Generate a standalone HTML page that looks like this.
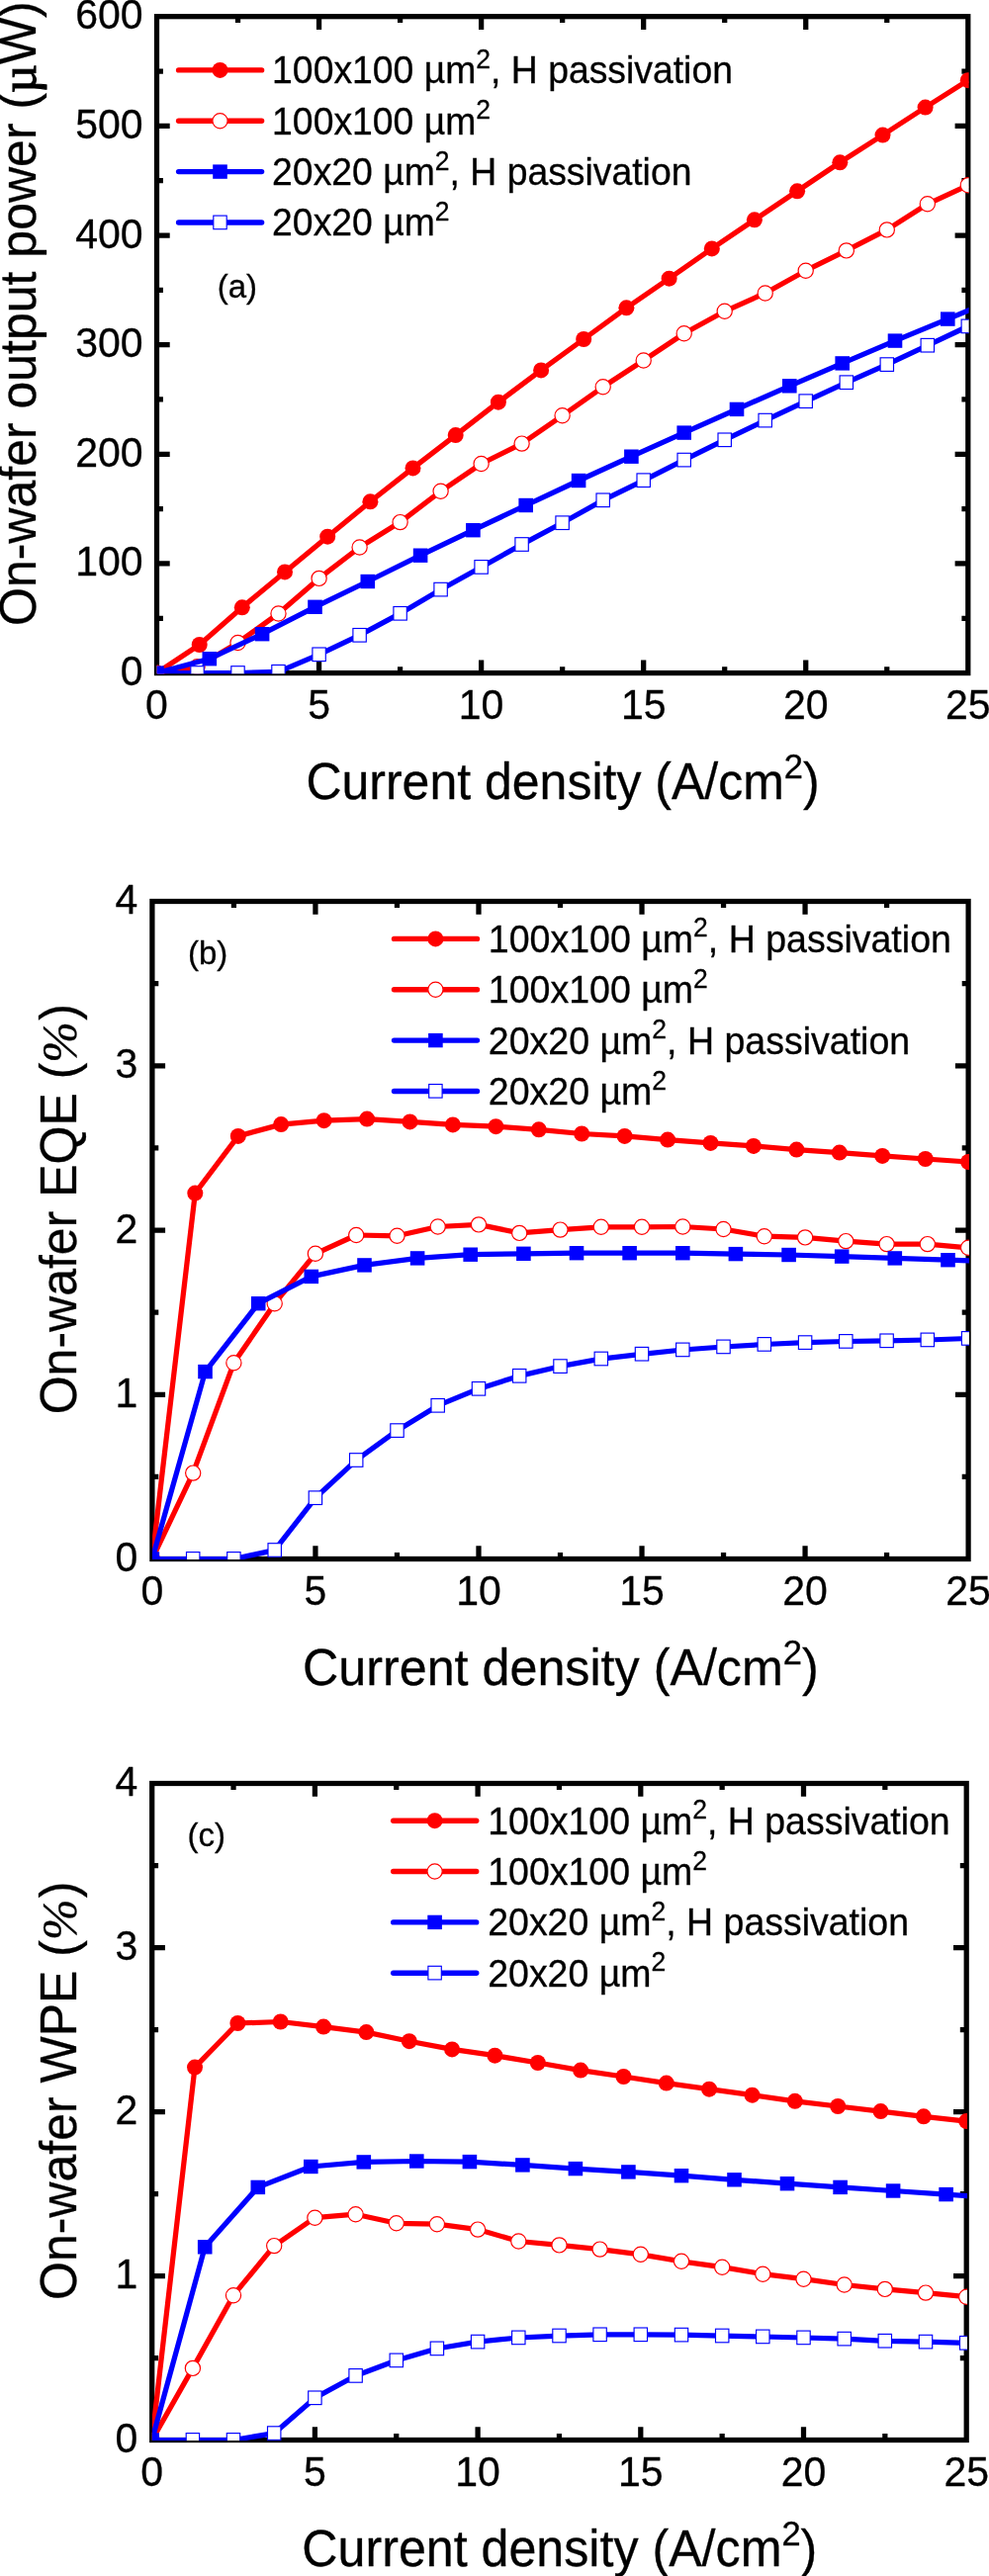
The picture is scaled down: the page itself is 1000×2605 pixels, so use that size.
<!DOCTYPE html><html><head><meta charset="utf-8"><title>chart</title><style>html,body{margin:0;padding:0;background:#fff}svg{display:block;mix-blend-mode:multiply}text{font-family:"Liberation Sans",sans-serif;fill:#000;stroke:#000;stroke-width:.3px}.sy{font-family:"Liberation Serif",serif}</style></head><body>
<svg width="1000" height="2605" viewBox="0 0 1000 2605">
<g><rect x="158.5" y="16.7" width="820.3" height="663.9" fill="none" stroke="#000" stroke-width="5.25"/><path d="M240.53 680.6v-6.4M240.53 16.7v6.4M322.56 680.6v-13.2M322.56 16.7v13.2M404.59 680.6v-6.4M404.59 16.7v6.4M486.62 680.6v-13.2M486.62 16.7v13.2M568.65 680.6v-6.4M568.65 16.7v6.4M650.68 680.6v-13.2M650.68 16.7v13.2M732.71 680.6v-6.4M732.71 16.7v6.4M814.74 680.6v-13.2M814.74 16.7v13.2M896.77 680.6v-6.4M896.77 16.7v6.4M158.5 625.27h6.4M978.8 625.27h-6.4M158.5 569.95h13.2M978.8 569.95h-13.2M158.5 514.62h6.4M978.8 514.62h-6.4M158.5 459.30h13.2M978.8 459.30h-13.2M158.5 403.98h6.4M978.8 403.98h-6.4M158.5 348.65h13.2M978.8 348.65h-13.2M158.5 293.33h6.4M978.8 293.33h-6.4M158.5 238.00h13.2M978.8 238.00h-13.2M158.5 182.68h6.4M978.8 182.68h-6.4M158.5 127.35h13.2M978.8 127.35h-13.2M158.5 72.02h6.4M978.8 72.02h-6.4" stroke="#000" stroke-width="5.25" fill="none"/><text transform="translate(158.50,727.20) scale(1,1.04)" font-size="41" text-anchor="middle">0</text><text transform="translate(322.56,727.20) scale(1,1.04)" font-size="41" text-anchor="middle">5</text><text transform="translate(486.62,727.20) scale(1,1.04)" font-size="41" text-anchor="middle">10</text><text transform="translate(650.68,727.20) scale(1,1.04)" font-size="41" text-anchor="middle">15</text><text transform="translate(814.74,727.20) scale(1,1.04)" font-size="41" text-anchor="middle">20</text><text transform="translate(978.80,727.20) scale(1,1.04)" font-size="41" text-anchor="middle">25</text><text transform="translate(144.60,693.10) scale(1,1.04)" font-size="41" text-anchor="end">0</text><text transform="translate(144.60,582.45) scale(1,1.04)" font-size="41" text-anchor="end">100</text><text transform="translate(144.60,471.80) scale(1,1.04)" font-size="41" text-anchor="end">200</text><text transform="translate(144.60,361.15) scale(1,1.04)" font-size="41" text-anchor="end">300</text><text transform="translate(144.60,250.50) scale(1,1.04)" font-size="41" text-anchor="end">400</text><text transform="translate(144.60,139.85) scale(1,1.04)" font-size="41" text-anchor="end">500</text><text transform="translate(144.60,29.20) scale(1,1.04)" font-size="41" text-anchor="end">600</text><text transform="translate(569.05,807.80) scale(1,1.03)" font-size="50.0" text-anchor="middle">Current density (A/cm<tspan dy="-20" font-size="34.5">2</tspan><tspan dy="20">)</tspan></text><text transform="translate(36.20,633.00) rotate(-90) scale(1,1.03)" font-size="50.0">On-wafer output power (<tspan class="sy" stroke-width="1.1">µ</tspan>W)</text><clipPath id="clipa"><rect x="158.7" y="16.5" width="820.9" height="664.7"/></clipPath><g clip-path="url(#clipa)"><polyline points="158.5,680.6 201.7,652.0 244.8,614.3 288.0,578.4 331.2,542.7 374.4,507.3 417.5,473.4 460.7,440.1 503.9,406.7 547.1,374.4 590.2,343.0 633.4,311.3 676.6,281.7 719.8,251.4 762.9,222.3 806.1,193.3 849.3,164.3 892.5,136.6 935.6,108.6 978.8,81.2" fill="none" stroke="#ff0000" stroke-width="5.25" stroke-linejoin="round"/><circle cx="158.5" cy="680.6" r="8" fill="#ff0000"/><circle cx="201.7" cy="652.0" r="8" fill="#ff0000"/><circle cx="244.8" cy="614.3" r="8" fill="#ff0000"/><circle cx="288.0" cy="578.4" r="8" fill="#ff0000"/><circle cx="331.2" cy="542.7" r="8" fill="#ff0000"/><circle cx="374.4" cy="507.3" r="8" fill="#ff0000"/><circle cx="417.5" cy="473.4" r="8" fill="#ff0000"/><circle cx="460.7" cy="440.1" r="8" fill="#ff0000"/><circle cx="503.9" cy="406.7" r="8" fill="#ff0000"/><circle cx="547.1" cy="374.4" r="8" fill="#ff0000"/><circle cx="590.2" cy="343.0" r="8" fill="#ff0000"/><circle cx="633.4" cy="311.3" r="8" fill="#ff0000"/><circle cx="676.6" cy="281.7" r="8" fill="#ff0000"/><circle cx="719.8" cy="251.4" r="8" fill="#ff0000"/><circle cx="762.9" cy="222.3" r="8" fill="#ff0000"/><circle cx="806.1" cy="193.3" r="8" fill="#ff0000"/><circle cx="849.3" cy="164.3" r="8" fill="#ff0000"/><circle cx="892.5" cy="136.6" r="8" fill="#ff0000"/><circle cx="935.6" cy="108.6" r="8" fill="#ff0000"/><circle cx="978.8" cy="81.2" r="8" fill="#ff0000"/><polyline points="158.5,680.6 199.5,674.3 240.5,650.0 281.5,620.5 322.6,584.9 363.6,553.5 404.6,528.1 445.6,496.8 486.6,469.0 527.6,448.6 568.6,420.3 609.7,391.3 650.7,364.5 691.7,337.3 732.7,314.8 773.7,296.5 814.7,273.7 855.8,253.4 896.8,232.4 937.8,206.3 978.8,187.3" fill="none" stroke="#ff0000" stroke-width="5.25" stroke-linejoin="round"/><circle cx="158.5" cy="680.6" r="7.6" fill="#fff" stroke="#ff0000" stroke-width="1.2"/><circle cx="199.5" cy="674.3" r="7.6" fill="#fff" stroke="#ff0000" stroke-width="1.2"/><circle cx="240.5" cy="650.0" r="7.6" fill="#fff" stroke="#ff0000" stroke-width="1.2"/><circle cx="281.5" cy="620.5" r="7.6" fill="#fff" stroke="#ff0000" stroke-width="1.2"/><circle cx="322.6" cy="584.9" r="7.6" fill="#fff" stroke="#ff0000" stroke-width="1.2"/><circle cx="363.6" cy="553.5" r="7.6" fill="#fff" stroke="#ff0000" stroke-width="1.2"/><circle cx="404.6" cy="528.1" r="7.6" fill="#fff" stroke="#ff0000" stroke-width="1.2"/><circle cx="445.6" cy="496.8" r="7.6" fill="#fff" stroke="#ff0000" stroke-width="1.2"/><circle cx="486.6" cy="469.0" r="7.6" fill="#fff" stroke="#ff0000" stroke-width="1.2"/><circle cx="527.6" cy="448.6" r="7.6" fill="#fff" stroke="#ff0000" stroke-width="1.2"/><circle cx="568.6" cy="420.3" r="7.6" fill="#fff" stroke="#ff0000" stroke-width="1.2"/><circle cx="609.7" cy="391.3" r="7.6" fill="#fff" stroke="#ff0000" stroke-width="1.2"/><circle cx="650.7" cy="364.5" r="7.6" fill="#fff" stroke="#ff0000" stroke-width="1.2"/><circle cx="691.7" cy="337.3" r="7.6" fill="#fff" stroke="#ff0000" stroke-width="1.2"/><circle cx="732.7" cy="314.8" r="7.6" fill="#fff" stroke="#ff0000" stroke-width="1.2"/><circle cx="773.7" cy="296.5" r="7.6" fill="#fff" stroke="#ff0000" stroke-width="1.2"/><circle cx="814.7" cy="273.7" r="7.6" fill="#fff" stroke="#ff0000" stroke-width="1.2"/><circle cx="855.8" cy="253.4" r="7.6" fill="#fff" stroke="#ff0000" stroke-width="1.2"/><circle cx="896.8" cy="232.4" r="7.6" fill="#fff" stroke="#ff0000" stroke-width="1.2"/><circle cx="937.8" cy="206.3" r="7.6" fill="#fff" stroke="#ff0000" stroke-width="1.2"/><circle cx="978.8" cy="187.3" r="7.6" fill="#fff" stroke="#ff0000" stroke-width="1.2"/><polyline points="158.5,680.6 211.8,666.2 265.1,641.2 318.5,613.8 371.8,588.0 425.1,561.7 478.4,536.2 531.7,511.0 585.1,486.0 638.4,461.7 691.7,437.6 745.0,413.9 798.3,390.3 851.7,367.4 905.0,344.6 958.3,322.6 1011.6,300.5" fill="none" stroke="#0000ff" stroke-width="5.25" stroke-linejoin="round"/><rect x="151.2" y="673.4" width="14.6" height="14.4" fill="#0000ff"/><rect x="204.5" y="659.0" width="14.6" height="14.4" fill="#0000ff"/><rect x="257.8" y="634.0" width="14.6" height="14.4" fill="#0000ff"/><rect x="311.2" y="606.6" width="14.6" height="14.4" fill="#0000ff"/><rect x="364.5" y="580.8" width="14.6" height="14.4" fill="#0000ff"/><rect x="417.8" y="554.5" width="14.6" height="14.4" fill="#0000ff"/><rect x="471.1" y="529.0" width="14.6" height="14.4" fill="#0000ff"/><rect x="524.4" y="503.8" width="14.6" height="14.4" fill="#0000ff"/><rect x="577.8" y="478.8" width="14.6" height="14.4" fill="#0000ff"/><rect x="631.1" y="454.5" width="14.6" height="14.4" fill="#0000ff"/><rect x="684.4" y="430.4" width="14.6" height="14.4" fill="#0000ff"/><rect x="737.7" y="406.7" width="14.6" height="14.4" fill="#0000ff"/><rect x="791.0" y="383.1" width="14.6" height="14.4" fill="#0000ff"/><rect x="844.4" y="360.2" width="14.6" height="14.4" fill="#0000ff"/><rect x="897.7" y="337.4" width="14.6" height="14.4" fill="#0000ff"/><rect x="951.0" y="315.4" width="14.6" height="14.4" fill="#0000ff"/><polyline points="158.5,680.6 199.5,680.6 240.5,680.6 281.5,679.4 322.6,661.9 363.6,642.4 404.6,620.4 445.6,596.2 486.6,573.5 527.6,550.6 568.6,528.8 609.7,505.9 650.7,485.8 691.7,465.2 732.7,444.9 773.7,425.2 814.7,405.8 855.8,386.8 896.8,368.7 937.8,349.3 978.8,330.0" fill="none" stroke="#0000ff" stroke-width="5.25" stroke-linejoin="round"/><rect x="192.8" y="673.7" width="13.4" height="13.6" fill="#fff" stroke="#0000ff" stroke-width="1.15"/><rect x="233.8" y="673.7" width="13.4" height="13.6" fill="#fff" stroke="#0000ff" stroke-width="1.15"/><rect x="274.8" y="672.5" width="13.4" height="13.6" fill="#fff" stroke="#0000ff" stroke-width="1.15"/><rect x="315.9" y="655.0" width="13.4" height="13.6" fill="#fff" stroke="#0000ff" stroke-width="1.15"/><rect x="356.9" y="635.5" width="13.4" height="13.6" fill="#fff" stroke="#0000ff" stroke-width="1.15"/><rect x="397.9" y="613.5" width="13.4" height="13.6" fill="#fff" stroke="#0000ff" stroke-width="1.15"/><rect x="438.9" y="589.3" width="13.4" height="13.6" fill="#fff" stroke="#0000ff" stroke-width="1.15"/><rect x="479.9" y="566.6" width="13.4" height="13.6" fill="#fff" stroke="#0000ff" stroke-width="1.15"/><rect x="520.9" y="543.7" width="13.4" height="13.6" fill="#fff" stroke="#0000ff" stroke-width="1.15"/><rect x="561.9" y="521.9" width="13.4" height="13.6" fill="#fff" stroke="#0000ff" stroke-width="1.15"/><rect x="603.0" y="499.0" width="13.4" height="13.6" fill="#fff" stroke="#0000ff" stroke-width="1.15"/><rect x="644.0" y="478.9" width="13.4" height="13.6" fill="#fff" stroke="#0000ff" stroke-width="1.15"/><rect x="685.0" y="458.3" width="13.4" height="13.6" fill="#fff" stroke="#0000ff" stroke-width="1.15"/><rect x="726.0" y="438.0" width="13.4" height="13.6" fill="#fff" stroke="#0000ff" stroke-width="1.15"/><rect x="767.0" y="418.3" width="13.4" height="13.6" fill="#fff" stroke="#0000ff" stroke-width="1.15"/><rect x="808.0" y="398.9" width="13.4" height="13.6" fill="#fff" stroke="#0000ff" stroke-width="1.15"/><rect x="849.1" y="379.9" width="13.4" height="13.6" fill="#fff" stroke="#0000ff" stroke-width="1.15"/><rect x="890.1" y="361.8" width="13.4" height="13.6" fill="#fff" stroke="#0000ff" stroke-width="1.15"/><rect x="931.1" y="342.4" width="13.4" height="13.6" fill="#fff" stroke="#0000ff" stroke-width="1.15"/><rect x="972.1" y="323.1" width="13.4" height="13.6" fill="#fff" stroke="#0000ff" stroke-width="1.15"/></g><line x1="180.6" y1="70.9" x2="264.6" y2="70.9" stroke="#ff0000" stroke-width="5.4" stroke-linecap="round"/><circle cx="222.5" cy="70.9" r="8" fill="#ff0000"/><text transform="translate(275.10,84.40) scale(1,1.028)" font-size="37.35">100x100 µm<tspan dy="-15" font-size="26.5">2</tspan><tspan dy="15">, H passivation</tspan></text><line x1="180.6" y1="122.2" x2="264.6" y2="122.2" stroke="#ff0000" stroke-width="5.4" stroke-linecap="round"/><circle cx="222.5" cy="122.2" r="7.6" fill="#fff" stroke="#ff0000" stroke-width="1.2"/><text transform="translate(275.10,135.75) scale(1,1.028)" font-size="37.35">100x100 µm<tspan dy="-15" font-size="26.5">2</tspan></text><line x1="180.6" y1="173.6" x2="264.6" y2="173.6" stroke="#0000ff" stroke-width="5.4" stroke-linecap="round"/><rect x="215.2" y="166.4" width="14.6" height="14.4" fill="#0000ff"/><text transform="translate(275.10,187.10) scale(1,1.028)" font-size="37.35">20x20 µm<tspan dy="-15" font-size="26.5">2</tspan><tspan dy="15">, H passivation</tspan></text><line x1="180.6" y1="225.0" x2="264.6" y2="225.0" stroke="#0000ff" stroke-width="5.4" stroke-linecap="round"/><rect x="215.8" y="218.1" width="13.4" height="13.6" fill="#fff" stroke="#0000ff" stroke-width="1.15"/><text transform="translate(275.10,238.45) scale(1,1.028)" font-size="37.35">20x20 µm<tspan dy="-15" font-size="26.5">2</tspan></text><text transform="translate(219.70,301.00) scale(1,1.0)" font-size="33">(a)</text></g>
<g><rect x="153.9" y="911.5" width="825.2" height="665.0" fill="none" stroke="#000" stroke-width="5.25"/><path d="M236.42 1576.5v-6.4M236.42 911.5v6.4M318.94 1576.5v-13.2M318.94 911.5v13.2M401.46 1576.5v-6.4M401.46 911.5v6.4M483.98 1576.5v-13.2M483.98 911.5v13.2M566.50 1576.5v-6.4M566.50 911.5v6.4M649.02 1576.5v-13.2M649.02 911.5v13.2M731.54 1576.5v-6.4M731.54 911.5v6.4M814.06 1576.5v-13.2M814.06 911.5v13.2M896.58 1576.5v-6.4M896.58 911.5v6.4M153.9 1493.38h6.4M979.1 1493.38h-6.4M153.9 1410.25h13.2M979.1 1410.25h-13.2M153.9 1327.12h6.4M979.1 1327.12h-6.4M153.9 1244.00h13.2M979.1 1244.00h-13.2M153.9 1160.88h6.4M979.1 1160.88h-6.4M153.9 1077.75h13.2M979.1 1077.75h-13.2M153.9 994.62h6.4M979.1 994.62h-6.4" stroke="#000" stroke-width="5.25" fill="none"/><text transform="translate(153.90,1623.10) scale(1,1.04)" font-size="41" text-anchor="middle">0</text><text transform="translate(318.94,1623.10) scale(1,1.04)" font-size="41" text-anchor="middle">5</text><text transform="translate(483.98,1623.10) scale(1,1.04)" font-size="41" text-anchor="middle">10</text><text transform="translate(649.02,1623.10) scale(1,1.04)" font-size="41" text-anchor="middle">15</text><text transform="translate(814.06,1623.10) scale(1,1.04)" font-size="41" text-anchor="middle">20</text><text transform="translate(979.10,1623.10) scale(1,1.04)" font-size="41" text-anchor="middle">25</text><text transform="translate(139.40,1589.00) scale(1,1.04)" font-size="41" text-anchor="end">0</text><text transform="translate(139.40,1422.75) scale(1,1.04)" font-size="41" text-anchor="end">1</text><text transform="translate(139.40,1256.50) scale(1,1.04)" font-size="41" text-anchor="end">2</text><text transform="translate(139.40,1090.25) scale(1,1.04)" font-size="41" text-anchor="end">3</text><text transform="translate(139.40,924.00) scale(1,1.04)" font-size="41" text-anchor="end">4</text><text transform="translate(566.90,1703.70) scale(1,1.03)" font-size="50.25" text-anchor="middle">Current density (A/cm<tspan dy="-20" font-size="34.5">2</tspan><tspan dy="20">)</tspan></text><text transform="translate(77.30,1430.30) rotate(-90) scale(1,1.03)" font-size="50.0">On-wafer EQE (<tspan class="sy" font-style="italic">%</tspan><tspan dx="1.3">)</tspan></text><clipPath id="clipb"><rect x="154.1" y="911.3" width="825.8" height="665.8"/></clipPath><g clip-path="url(#clipb)"><polyline points="153.9,1576.5 197.3,1206.6 240.8,1148.9 284.2,1137.1 327.6,1133.2 371.1,1131.6 414.5,1134.4 457.9,1137.4 501.4,1139.2 544.8,1142.3 588.2,1146.5 631.6,1148.9 675.1,1152.6 718.5,1155.9 761.9,1158.9 805.4,1162.6 848.8,1165.6 892.2,1168.9 935.7,1172.0 979.1,1175.0" fill="none" stroke="#ff0000" stroke-width="5.25" stroke-linejoin="round"/><circle cx="153.9" cy="1576.5" r="8" fill="#ff0000"/><circle cx="197.3" cy="1206.6" r="8" fill="#ff0000"/><circle cx="240.8" cy="1148.9" r="8" fill="#ff0000"/><circle cx="284.2" cy="1137.1" r="8" fill="#ff0000"/><circle cx="327.6" cy="1133.2" r="8" fill="#ff0000"/><circle cx="371.1" cy="1131.6" r="8" fill="#ff0000"/><circle cx="414.5" cy="1134.4" r="8" fill="#ff0000"/><circle cx="457.9" cy="1137.4" r="8" fill="#ff0000"/><circle cx="501.4" cy="1139.2" r="8" fill="#ff0000"/><circle cx="544.8" cy="1142.3" r="8" fill="#ff0000"/><circle cx="588.2" cy="1146.5" r="8" fill="#ff0000"/><circle cx="631.6" cy="1148.9" r="8" fill="#ff0000"/><circle cx="675.1" cy="1152.6" r="8" fill="#ff0000"/><circle cx="718.5" cy="1155.9" r="8" fill="#ff0000"/><circle cx="761.9" cy="1158.9" r="8" fill="#ff0000"/><circle cx="805.4" cy="1162.6" r="8" fill="#ff0000"/><circle cx="848.8" cy="1165.6" r="8" fill="#ff0000"/><circle cx="892.2" cy="1168.9" r="8" fill="#ff0000"/><circle cx="935.7" cy="1172.0" r="8" fill="#ff0000"/><circle cx="979.1" cy="1175.0" r="8" fill="#ff0000"/><polyline points="153.9,1576.5 195.2,1489.6 236.4,1378.3 277.7,1318.2 318.9,1267.8 360.2,1249.0 401.5,1249.8 442.7,1240.5 484.0,1238.4 525.2,1246.9 566.5,1243.6 607.8,1240.8 649.0,1240.8 690.3,1240.5 731.5,1243.0 772.8,1250.2 814.1,1251.4 855.3,1255.1 896.6,1258.1 937.8,1258.1 979.1,1261.8" fill="none" stroke="#ff0000" stroke-width="5.25" stroke-linejoin="round"/><circle cx="153.9" cy="1576.5" r="7.6" fill="#fff" stroke="#ff0000" stroke-width="1.2"/><circle cx="195.2" cy="1489.6" r="7.6" fill="#fff" stroke="#ff0000" stroke-width="1.2"/><circle cx="236.4" cy="1378.3" r="7.6" fill="#fff" stroke="#ff0000" stroke-width="1.2"/><circle cx="277.7" cy="1318.2" r="7.6" fill="#fff" stroke="#ff0000" stroke-width="1.2"/><circle cx="318.9" cy="1267.8" r="7.6" fill="#fff" stroke="#ff0000" stroke-width="1.2"/><circle cx="360.2" cy="1249.0" r="7.6" fill="#fff" stroke="#ff0000" stroke-width="1.2"/><circle cx="401.5" cy="1249.8" r="7.6" fill="#fff" stroke="#ff0000" stroke-width="1.2"/><circle cx="442.7" cy="1240.5" r="7.6" fill="#fff" stroke="#ff0000" stroke-width="1.2"/><circle cx="484.0" cy="1238.4" r="7.6" fill="#fff" stroke="#ff0000" stroke-width="1.2"/><circle cx="525.2" cy="1246.9" r="7.6" fill="#fff" stroke="#ff0000" stroke-width="1.2"/><circle cx="566.5" cy="1243.6" r="7.6" fill="#fff" stroke="#ff0000" stroke-width="1.2"/><circle cx="607.8" cy="1240.8" r="7.6" fill="#fff" stroke="#ff0000" stroke-width="1.2"/><circle cx="649.0" cy="1240.8" r="7.6" fill="#fff" stroke="#ff0000" stroke-width="1.2"/><circle cx="690.3" cy="1240.5" r="7.6" fill="#fff" stroke="#ff0000" stroke-width="1.2"/><circle cx="731.5" cy="1243.0" r="7.6" fill="#fff" stroke="#ff0000" stroke-width="1.2"/><circle cx="772.8" cy="1250.2" r="7.6" fill="#fff" stroke="#ff0000" stroke-width="1.2"/><circle cx="814.1" cy="1251.4" r="7.6" fill="#fff" stroke="#ff0000" stroke-width="1.2"/><circle cx="855.3" cy="1255.1" r="7.6" fill="#fff" stroke="#ff0000" stroke-width="1.2"/><circle cx="896.6" cy="1258.1" r="7.6" fill="#fff" stroke="#ff0000" stroke-width="1.2"/><circle cx="937.8" cy="1258.1" r="7.6" fill="#fff" stroke="#ff0000" stroke-width="1.2"/><circle cx="979.1" cy="1261.8" r="7.6" fill="#fff" stroke="#ff0000" stroke-width="1.2"/><polyline points="153.9,1576.5 207.5,1387.1 261.2,1318.2 314.8,1290.9 368.5,1279.4 422.1,1272.4 475.7,1268.7 529.4,1267.8 583.0,1267.2 636.6,1267.2 690.3,1267.2 743.9,1268.1 797.6,1269.0 851.2,1270.6 904.8,1272.4 958.5,1274.2 1012.1,1275.9" fill="none" stroke="#0000ff" stroke-width="5.25" stroke-linejoin="round"/><rect x="146.6" y="1569.3" width="14.6" height="14.4" fill="#0000ff"/><rect x="200.2" y="1379.9" width="14.6" height="14.4" fill="#0000ff"/><rect x="253.9" y="1311.0" width="14.6" height="14.4" fill="#0000ff"/><rect x="307.5" y="1283.7" width="14.6" height="14.4" fill="#0000ff"/><rect x="361.2" y="1272.2" width="14.6" height="14.4" fill="#0000ff"/><rect x="414.8" y="1265.2" width="14.6" height="14.4" fill="#0000ff"/><rect x="468.4" y="1261.5" width="14.6" height="14.4" fill="#0000ff"/><rect x="522.1" y="1260.6" width="14.6" height="14.4" fill="#0000ff"/><rect x="575.7" y="1260.0" width="14.6" height="14.4" fill="#0000ff"/><rect x="629.3" y="1260.0" width="14.6" height="14.4" fill="#0000ff"/><rect x="683.0" y="1260.0" width="14.6" height="14.4" fill="#0000ff"/><rect x="736.6" y="1260.9" width="14.6" height="14.4" fill="#0000ff"/><rect x="790.3" y="1261.8" width="14.6" height="14.4" fill="#0000ff"/><rect x="843.9" y="1263.4" width="14.6" height="14.4" fill="#0000ff"/><rect x="897.5" y="1265.2" width="14.6" height="14.4" fill="#0000ff"/><rect x="951.2" y="1267.0" width="14.6" height="14.4" fill="#0000ff"/><polyline points="153.9,1576.5 195.2,1576.5 236.4,1576.5 277.7,1567.6 318.9,1514.8 360.2,1476.6 401.5,1446.7 442.7,1421.4 484.0,1404.4 525.2,1391.4 566.5,1381.7 607.8,1374.1 649.0,1369.3 690.3,1365.0 731.5,1362.0 772.8,1359.5 814.1,1357.7 855.3,1356.5 896.6,1355.9 937.8,1355.0 979.1,1353.5" fill="none" stroke="#0000ff" stroke-width="5.25" stroke-linejoin="round"/><rect x="188.5" y="1569.6" width="13.4" height="13.6" fill="#fff" stroke="#0000ff" stroke-width="1.15"/><rect x="229.7" y="1569.6" width="13.4" height="13.6" fill="#fff" stroke="#0000ff" stroke-width="1.15"/><rect x="271.0" y="1560.7" width="13.4" height="13.6" fill="#fff" stroke="#0000ff" stroke-width="1.15"/><rect x="312.2" y="1507.9" width="13.4" height="13.6" fill="#fff" stroke="#0000ff" stroke-width="1.15"/><rect x="353.5" y="1469.7" width="13.4" height="13.6" fill="#fff" stroke="#0000ff" stroke-width="1.15"/><rect x="394.8" y="1439.8" width="13.4" height="13.6" fill="#fff" stroke="#0000ff" stroke-width="1.15"/><rect x="436.0" y="1414.5" width="13.4" height="13.6" fill="#fff" stroke="#0000ff" stroke-width="1.15"/><rect x="477.3" y="1397.5" width="13.4" height="13.6" fill="#fff" stroke="#0000ff" stroke-width="1.15"/><rect x="518.5" y="1384.5" width="13.4" height="13.6" fill="#fff" stroke="#0000ff" stroke-width="1.15"/><rect x="559.8" y="1374.8" width="13.4" height="13.6" fill="#fff" stroke="#0000ff" stroke-width="1.15"/><rect x="601.1" y="1367.2" width="13.4" height="13.6" fill="#fff" stroke="#0000ff" stroke-width="1.15"/><rect x="642.3" y="1362.4" width="13.4" height="13.6" fill="#fff" stroke="#0000ff" stroke-width="1.15"/><rect x="683.6" y="1358.1" width="13.4" height="13.6" fill="#fff" stroke="#0000ff" stroke-width="1.15"/><rect x="724.8" y="1355.1" width="13.4" height="13.6" fill="#fff" stroke="#0000ff" stroke-width="1.15"/><rect x="766.1" y="1352.6" width="13.4" height="13.6" fill="#fff" stroke="#0000ff" stroke-width="1.15"/><rect x="807.4" y="1350.8" width="13.4" height="13.6" fill="#fff" stroke="#0000ff" stroke-width="1.15"/><rect x="848.6" y="1349.6" width="13.4" height="13.6" fill="#fff" stroke="#0000ff" stroke-width="1.15"/><rect x="889.9" y="1349.0" width="13.4" height="13.6" fill="#fff" stroke="#0000ff" stroke-width="1.15"/><rect x="931.1" y="1348.1" width="13.4" height="13.6" fill="#fff" stroke="#0000ff" stroke-width="1.15"/><rect x="972.4" y="1346.6" width="13.4" height="13.6" fill="#fff" stroke="#0000ff" stroke-width="1.15"/></g><line x1="398.5" y1="949.4" x2="482.5" y2="949.4" stroke="#ff0000" stroke-width="5.4" stroke-linecap="round"/><circle cx="440.4" cy="949.4" r="8" fill="#ff0000"/><text transform="translate(493.80,962.90) scale(1,1.028)" font-size="37.54">100x100 µm<tspan dy="-15" font-size="26.5">2</tspan><tspan dy="15">, H passivation</tspan></text><line x1="398.5" y1="1000.8" x2="482.5" y2="1000.8" stroke="#ff0000" stroke-width="5.4" stroke-linecap="round"/><circle cx="440.4" cy="1000.8" r="7.6" fill="#fff" stroke="#ff0000" stroke-width="1.2"/><text transform="translate(493.80,1014.25) scale(1,1.028)" font-size="37.54">100x100 µm<tspan dy="-15" font-size="26.5">2</tspan></text><line x1="398.5" y1="1052.1" x2="482.5" y2="1052.1" stroke="#0000ff" stroke-width="5.4" stroke-linecap="round"/><rect x="433.1" y="1044.9" width="14.6" height="14.4" fill="#0000ff"/><text transform="translate(493.80,1065.60) scale(1,1.028)" font-size="37.54">20x20 µm<tspan dy="-15" font-size="26.5">2</tspan><tspan dy="15">, H passivation</tspan></text><line x1="398.5" y1="1103.5" x2="482.5" y2="1103.5" stroke="#0000ff" stroke-width="5.4" stroke-linecap="round"/><rect x="433.7" y="1096.5" width="13.4" height="13.6" fill="#fff" stroke="#0000ff" stroke-width="1.15"/><text transform="translate(493.80,1116.95) scale(1,1.028)" font-size="37.54">20x20 µm<tspan dy="-15" font-size="26.5">2</tspan></text><text transform="translate(189.90,975.10) scale(1,1.0)" font-size="33">(b)</text></g>
<g><rect x="153.7" y="1803.5" width="823.5" height="664.0" fill="none" stroke="#000" stroke-width="5.25"/><path d="M236.05 2467.5v-6.4M236.05 1803.5v6.4M318.40 2467.5v-13.2M318.40 1803.5v13.2M400.75 2467.5v-6.4M400.75 1803.5v6.4M483.10 2467.5v-13.2M483.10 1803.5v13.2M565.45 2467.5v-6.4M565.45 1803.5v6.4M647.80 2467.5v-13.2M647.80 1803.5v13.2M730.15 2467.5v-6.4M730.15 1803.5v6.4M812.50 2467.5v-13.2M812.50 1803.5v13.2M894.85 2467.5v-6.4M894.85 1803.5v6.4M153.7 2384.50h6.4M977.2 2384.50h-6.4M153.7 2301.50h13.2M977.2 2301.50h-13.2M153.7 2218.50h6.4M977.2 2218.50h-6.4M153.7 2135.50h13.2M977.2 2135.50h-13.2M153.7 2052.50h6.4M977.2 2052.50h-6.4M153.7 1969.50h13.2M977.2 1969.50h-13.2M153.7 1886.50h6.4M977.2 1886.50h-6.4" stroke="#000" stroke-width="5.25" fill="none"/><text transform="translate(153.70,2514.10) scale(1,1.04)" font-size="41" text-anchor="middle">0</text><text transform="translate(318.40,2514.10) scale(1,1.04)" font-size="41" text-anchor="middle">5</text><text transform="translate(483.10,2514.10) scale(1,1.04)" font-size="41" text-anchor="middle">10</text><text transform="translate(647.80,2514.10) scale(1,1.04)" font-size="41" text-anchor="middle">15</text><text transform="translate(812.50,2514.10) scale(1,1.04)" font-size="41" text-anchor="middle">20</text><text transform="translate(977.20,2514.10) scale(1,1.04)" font-size="41" text-anchor="middle">25</text><text transform="translate(139.40,2480.00) scale(1,1.04)" font-size="41" text-anchor="end">0</text><text transform="translate(139.40,2314.00) scale(1,1.04)" font-size="41" text-anchor="end">1</text><text transform="translate(139.40,2148.00) scale(1,1.04)" font-size="41" text-anchor="end">2</text><text transform="translate(139.40,1982.00) scale(1,1.04)" font-size="41" text-anchor="end">3</text><text transform="translate(139.40,1816.00) scale(1,1.04)" font-size="41" text-anchor="end">4</text><text transform="translate(565.85,2594.70) scale(1,1.03)" font-size="50.18" text-anchor="middle">Current density (A/cm<tspan dy="-20" font-size="34.5">2</tspan><tspan dy="20">)</tspan></text><text transform="translate(77.30,2326.00) rotate(-90) scale(1,1.03)" font-size="50.0">On-wafer WPE (<tspan class="sy" font-style="italic">%</tspan><tspan dx="1.3">)</tspan></text><clipPath id="clipc"><rect x="153.89999999999998" y="1803.3" width="824.1" height="664.8"/></clipPath><g clip-path="url(#clipc)"><polyline points="153.7,2467.5 197.0,2090.6 240.4,2046.0 283.7,2044.5 327.1,2049.6 370.4,2055.1 413.8,2064.2 457.1,2072.4 500.4,2078.7 543.8,2086.0 587.1,2093.6 630.5,2100.0 673.8,2106.6 717.1,2112.7 760.5,2118.7 803.8,2124.8 847.2,2130.0 890.5,2135.1 933.9,2140.3 977.2,2145.1" fill="none" stroke="#ff0000" stroke-width="5.25" stroke-linejoin="round"/><circle cx="153.7" cy="2467.5" r="8" fill="#ff0000"/><circle cx="197.0" cy="2090.6" r="8" fill="#ff0000"/><circle cx="240.4" cy="2046.0" r="8" fill="#ff0000"/><circle cx="283.7" cy="2044.5" r="8" fill="#ff0000"/><circle cx="327.1" cy="2049.6" r="8" fill="#ff0000"/><circle cx="370.4" cy="2055.1" r="8" fill="#ff0000"/><circle cx="413.8" cy="2064.2" r="8" fill="#ff0000"/><circle cx="457.1" cy="2072.4" r="8" fill="#ff0000"/><circle cx="500.4" cy="2078.7" r="8" fill="#ff0000"/><circle cx="543.8" cy="2086.0" r="8" fill="#ff0000"/><circle cx="587.1" cy="2093.6" r="8" fill="#ff0000"/><circle cx="630.5" cy="2100.0" r="8" fill="#ff0000"/><circle cx="673.8" cy="2106.6" r="8" fill="#ff0000"/><circle cx="717.1" cy="2112.7" r="8" fill="#ff0000"/><circle cx="760.5" cy="2118.7" r="8" fill="#ff0000"/><circle cx="803.8" cy="2124.8" r="8" fill="#ff0000"/><circle cx="847.2" cy="2130.0" r="8" fill="#ff0000"/><circle cx="890.5" cy="2135.1" r="8" fill="#ff0000"/><circle cx="933.9" cy="2140.3" r="8" fill="#ff0000"/><circle cx="977.2" cy="2145.1" r="8" fill="#ff0000"/><polyline points="153.7,2467.5 194.9,2394.9 236.0,2321.2 277.2,2271.1 318.4,2242.7 359.6,2239.2 400.8,2248.3 441.9,2249.2 483.1,2254.6 524.3,2266.5 565.5,2270.4 606.6,2274.6 647.8,2279.8 689.0,2286.8 730.2,2292.7 771.3,2299.7 812.5,2304.7 853.7,2310.5 894.8,2314.9 936.0,2318.6 977.2,2322.7" fill="none" stroke="#ff0000" stroke-width="5.25" stroke-linejoin="round"/><circle cx="153.7" cy="2467.5" r="7.6" fill="#fff" stroke="#ff0000" stroke-width="1.2"/><circle cx="194.9" cy="2394.9" r="7.6" fill="#fff" stroke="#ff0000" stroke-width="1.2"/><circle cx="236.0" cy="2321.2" r="7.6" fill="#fff" stroke="#ff0000" stroke-width="1.2"/><circle cx="277.2" cy="2271.1" r="7.6" fill="#fff" stroke="#ff0000" stroke-width="1.2"/><circle cx="318.4" cy="2242.7" r="7.6" fill="#fff" stroke="#ff0000" stroke-width="1.2"/><circle cx="359.6" cy="2239.2" r="7.6" fill="#fff" stroke="#ff0000" stroke-width="1.2"/><circle cx="400.8" cy="2248.3" r="7.6" fill="#fff" stroke="#ff0000" stroke-width="1.2"/><circle cx="441.9" cy="2249.2" r="7.6" fill="#fff" stroke="#ff0000" stroke-width="1.2"/><circle cx="483.1" cy="2254.6" r="7.6" fill="#fff" stroke="#ff0000" stroke-width="1.2"/><circle cx="524.3" cy="2266.5" r="7.6" fill="#fff" stroke="#ff0000" stroke-width="1.2"/><circle cx="565.5" cy="2270.4" r="7.6" fill="#fff" stroke="#ff0000" stroke-width="1.2"/><circle cx="606.6" cy="2274.6" r="7.6" fill="#fff" stroke="#ff0000" stroke-width="1.2"/><circle cx="647.8" cy="2279.8" r="7.6" fill="#fff" stroke="#ff0000" stroke-width="1.2"/><circle cx="689.0" cy="2286.8" r="7.6" fill="#fff" stroke="#ff0000" stroke-width="1.2"/><circle cx="730.2" cy="2292.7" r="7.6" fill="#fff" stroke="#ff0000" stroke-width="1.2"/><circle cx="771.3" cy="2299.7" r="7.6" fill="#fff" stroke="#ff0000" stroke-width="1.2"/><circle cx="812.5" cy="2304.7" r="7.6" fill="#fff" stroke="#ff0000" stroke-width="1.2"/><circle cx="853.7" cy="2310.5" r="7.6" fill="#fff" stroke="#ff0000" stroke-width="1.2"/><circle cx="894.8" cy="2314.9" r="7.6" fill="#fff" stroke="#ff0000" stroke-width="1.2"/><circle cx="936.0" cy="2318.6" r="7.6" fill="#fff" stroke="#ff0000" stroke-width="1.2"/><circle cx="977.2" cy="2322.7" r="7.6" fill="#fff" stroke="#ff0000" stroke-width="1.2"/><polyline points="153.7,2467.5 207.2,2272.3 260.8,2211.9 314.3,2191.0 367.8,2186.4 421.3,2185.5 474.9,2186.1 528.4,2189.4 581.9,2193.1 635.4,2196.4 689.0,2200.2 742.5,2204.3 796.0,2208.2 849.6,2211.9 903.1,2215.5 956.6,2219.1 1010.1,2222.7" fill="none" stroke="#0000ff" stroke-width="5.25" stroke-linejoin="round"/><rect x="146.4" y="2460.3" width="14.6" height="14.4" fill="#0000ff"/><rect x="199.9" y="2265.1" width="14.6" height="14.4" fill="#0000ff"/><rect x="253.5" y="2204.7" width="14.6" height="14.4" fill="#0000ff"/><rect x="307.0" y="2183.8" width="14.6" height="14.4" fill="#0000ff"/><rect x="360.5" y="2179.2" width="14.6" height="14.4" fill="#0000ff"/><rect x="414.0" y="2178.3" width="14.6" height="14.4" fill="#0000ff"/><rect x="467.6" y="2178.9" width="14.6" height="14.4" fill="#0000ff"/><rect x="521.1" y="2182.2" width="14.6" height="14.4" fill="#0000ff"/><rect x="574.6" y="2185.9" width="14.6" height="14.4" fill="#0000ff"/><rect x="628.1" y="2189.2" width="14.6" height="14.4" fill="#0000ff"/><rect x="681.7" y="2193.0" width="14.6" height="14.4" fill="#0000ff"/><rect x="735.2" y="2197.1" width="14.6" height="14.4" fill="#0000ff"/><rect x="788.7" y="2201.0" width="14.6" height="14.4" fill="#0000ff"/><rect x="842.3" y="2204.7" width="14.6" height="14.4" fill="#0000ff"/><rect x="895.8" y="2208.3" width="14.6" height="14.4" fill="#0000ff"/><rect x="949.3" y="2211.9" width="14.6" height="14.4" fill="#0000ff"/><polyline points="153.7,2467.5 194.9,2467.5 236.0,2467.5 277.2,2460.7 318.4,2424.9 359.6,2402.5 400.8,2387.0 441.9,2375.0 483.1,2368.2 524.3,2364.0 565.5,2362.1 606.6,2360.9 647.8,2360.9 689.0,2361.2 730.2,2362.1 771.3,2363.0 812.5,2364.0 853.7,2365.2 894.8,2367.3 936.0,2368.2 977.2,2369.4" fill="none" stroke="#0000ff" stroke-width="5.25" stroke-linejoin="round"/><rect x="188.2" y="2460.6" width="13.4" height="13.6" fill="#fff" stroke="#0000ff" stroke-width="1.15"/><rect x="229.3" y="2460.6" width="13.4" height="13.6" fill="#fff" stroke="#0000ff" stroke-width="1.15"/><rect x="270.5" y="2453.8" width="13.4" height="13.6" fill="#fff" stroke="#0000ff" stroke-width="1.15"/><rect x="311.7" y="2418.0" width="13.4" height="13.6" fill="#fff" stroke="#0000ff" stroke-width="1.15"/><rect x="352.9" y="2395.6" width="13.4" height="13.6" fill="#fff" stroke="#0000ff" stroke-width="1.15"/><rect x="394.1" y="2380.1" width="13.4" height="13.6" fill="#fff" stroke="#0000ff" stroke-width="1.15"/><rect x="435.2" y="2368.1" width="13.4" height="13.6" fill="#fff" stroke="#0000ff" stroke-width="1.15"/><rect x="476.4" y="2361.3" width="13.4" height="13.6" fill="#fff" stroke="#0000ff" stroke-width="1.15"/><rect x="517.6" y="2357.1" width="13.4" height="13.6" fill="#fff" stroke="#0000ff" stroke-width="1.15"/><rect x="558.8" y="2355.2" width="13.4" height="13.6" fill="#fff" stroke="#0000ff" stroke-width="1.15"/><rect x="599.9" y="2354.0" width="13.4" height="13.6" fill="#fff" stroke="#0000ff" stroke-width="1.15"/><rect x="641.1" y="2354.0" width="13.4" height="13.6" fill="#fff" stroke="#0000ff" stroke-width="1.15"/><rect x="682.3" y="2354.3" width="13.4" height="13.6" fill="#fff" stroke="#0000ff" stroke-width="1.15"/><rect x="723.5" y="2355.2" width="13.4" height="13.6" fill="#fff" stroke="#0000ff" stroke-width="1.15"/><rect x="764.6" y="2356.1" width="13.4" height="13.6" fill="#fff" stroke="#0000ff" stroke-width="1.15"/><rect x="805.8" y="2357.1" width="13.4" height="13.6" fill="#fff" stroke="#0000ff" stroke-width="1.15"/><rect x="847.0" y="2358.3" width="13.4" height="13.6" fill="#fff" stroke="#0000ff" stroke-width="1.15"/><rect x="888.1" y="2360.4" width="13.4" height="13.6" fill="#fff" stroke="#0000ff" stroke-width="1.15"/><rect x="929.3" y="2361.3" width="13.4" height="13.6" fill="#fff" stroke="#0000ff" stroke-width="1.15"/><rect x="970.5" y="2362.5" width="13.4" height="13.6" fill="#fff" stroke="#0000ff" stroke-width="1.15"/></g><line x1="397.7" y1="1841.2" x2="481.7" y2="1841.2" stroke="#ff0000" stroke-width="5.4" stroke-linecap="round"/><circle cx="439.6" cy="1841.2" r="8" fill="#ff0000"/><text transform="translate(493.20,1854.70) scale(1,1.028)" font-size="37.48">100x100 µm<tspan dy="-15" font-size="26.5">2</tspan><tspan dy="15">, H passivation</tspan></text><line x1="397.7" y1="1892.5" x2="481.7" y2="1892.5" stroke="#ff0000" stroke-width="5.4" stroke-linecap="round"/><circle cx="439.6" cy="1892.5" r="7.6" fill="#fff" stroke="#ff0000" stroke-width="1.2"/><text transform="translate(493.20,1906.05) scale(1,1.028)" font-size="37.48">100x100 µm<tspan dy="-15" font-size="26.5">2</tspan></text><line x1="397.7" y1="1943.9" x2="481.7" y2="1943.9" stroke="#0000ff" stroke-width="5.4" stroke-linecap="round"/><rect x="432.3" y="1936.7" width="14.6" height="14.4" fill="#0000ff"/><text transform="translate(493.20,1957.40) scale(1,1.028)" font-size="37.48">20x20 µm<tspan dy="-15" font-size="26.5">2</tspan><tspan dy="15">, H passivation</tspan></text><line x1="397.7" y1="1995.2" x2="481.7" y2="1995.2" stroke="#0000ff" stroke-width="5.4" stroke-linecap="round"/><rect x="432.9" y="1988.3" width="13.4" height="13.6" fill="#fff" stroke="#0000ff" stroke-width="1.15"/><text transform="translate(493.20,2008.75) scale(1,1.028)" font-size="37.48">20x20 µm<tspan dy="-15" font-size="26.5">2</tspan></text><text transform="translate(189.40,1867.40) scale(1,1.0)" font-size="33">(c)</text></g>
</svg></body></html>
